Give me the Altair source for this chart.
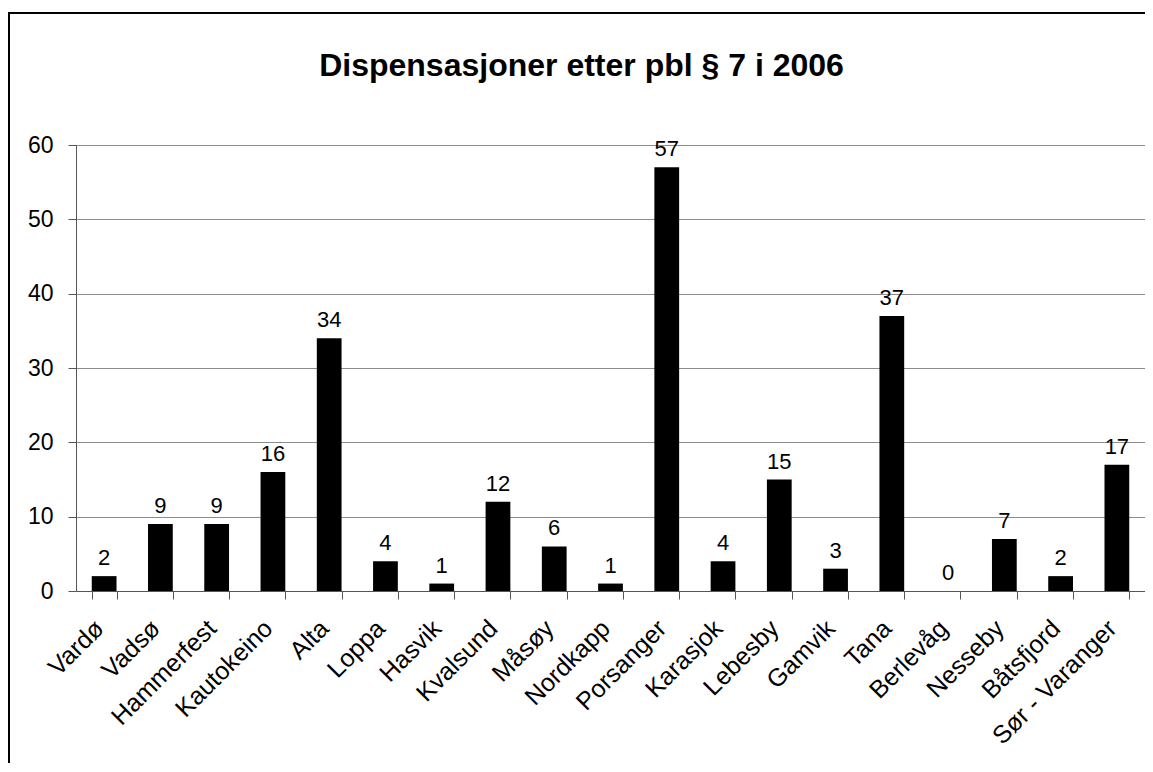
import altair as alt
import pandas as pd

kommuner = ["Vardø", "Vadsø", "Hammerfest", "Kautokeino", "Alta", "Loppa", "Hasvik",
            "Kvalsund", "Måsøy", "Nordkapp", "Porsanger", "Karasjok", "Lebesby",
            "Gamvik", "Tana", "Berlevåg", "Nesseby", "Båtsfjord", "Sør - Varanger"]
antall = [2, 9, 9, 16, 34, 4, 1, 12, 6, 1, 57, 4, 15, 3, 37, 0, 7, 2, 17]
y_ticks = [0, 10, 20, 30, 40, 50, 60]
tittel = "Dispensasjoner etter pbl § 7 i 2006"

df = pd.DataFrame({"kommune": kommuner, "antall": antall})

FONT = "Liberation Sans"
W, H = 1069, 446

x_enc = alt.X("kommune:N", sort=kommuner, title=None,
              scale=alt.Scale(paddingInner=0.56, paddingOuter=0.28),
              axis=alt.Axis(labelAngle=-45, labelAlign="right", labelBaseline="middle",
                            labelPadding=25, labelOffset=-5, labelFontSize=25,
                            labelFont=FONT, labelColor="black", tickBand="extent",
                            tickSize=8, tickColor="#555555", domainColor="#555555",
                            grid=False, labelOverlap=False))
y_enc = alt.Y("antall:Q", title=None,
              scale=alt.Scale(domain=[0, 60], nice=False),
              axis=alt.Axis(values=y_ticks, tickSize=8, labelPadding=15,
                            labelFontSize=23, labelFont=FONT, labelColor="black",
                            tickColor="#555555", domainColor="#555555",
                            grid=True, gridColor="#8c8c8c", gridWidth=1))

bars = alt.Chart(df).mark_bar(color="black").encode(x=x_enc, y=y_enc)
labels = alt.Chart(df).mark_text(baseline="alphabetic", dy=-11, fontSize=22,
                                 font=FONT, color="black").encode(
    x=alt.X("kommune:N", sort=kommuner), y="antall:Q", text="antall:Q")

frame = alt.Chart(pd.DataFrame({"f": [0]})).mark_rect(
    fill=None, stroke="black", strokeWidth=2).encode(
    x=alt.value(-67), x2=alt.value(1300), y=alt.value(-132), y2=alt.value(900))

chart = alt.layer(frame, bars, labels).properties(
    width=W, height=H,
    title=alt.TitleParams(tittel, font=FONT, fontSize=32, fontWeight="bold",
                          color="black", baseline="alphabetic", frame="group",
                          anchor="middle", offset=-96, dx=-29),
    autosize=alt.AutoSizeParams(type="none"),
    padding={"left": 68, "top": 137, "right": 0, "bottom": 172},
).configure_view(stroke="#8c8c8c", strokeWidth=1).configure(background="white")

chart.save("out.html", embed_options={"renderer": "svg", "actions": False})
